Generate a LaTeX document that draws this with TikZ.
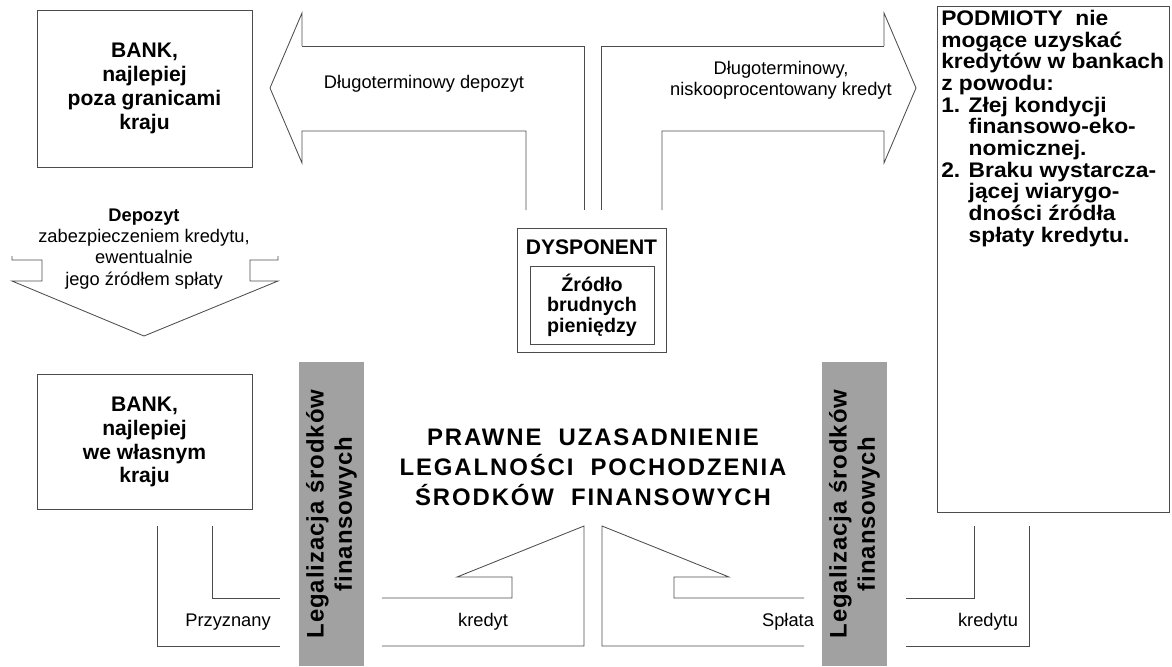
\documentclass[tikz,border=0pt]{standalone}
\usepackage{fontspec}
\setmainfont{Liberation Sans}
\newfontfamily\titlefont[LetterSpace=8]{Liberation Sans}
\newfontfamily\barfont[LetterSpace=4]{Liberation Sans}
\newfontfamily\podmfont[FakeStretch=1.08]{Liberation Sans}
\definecolor{lmLine}{gray}{0.3}
\definecolor{lmBarGray}{gray}{0.63}
\begin{document}
\begin{tikzpicture}[x=0.025cm,y=-0.025cm]
\tikzset{
    lmBox/.style={rectangle,draw=lmLine,line width=0.6pt,minimum width=5.375cm,align=center,font=\fontsize{15}{17}\selectfont\bfseries},
    lmFlow/.style={draw=lmLine,line width=0.6pt},
    lmBar/.style={rectangle,fill=lmBarGray,minimum width=1.625cm,minimum height=7.6cm,inner sep=0pt},
    lmBarText/.style={rotate=90,align=center,font=\barfont\fontsize{17}{20}\selectfont\bfseries},
    lmLabel/.style={align=center,font=\fontsize{13}{15}\selectfont},
}
\useasboundingbox (0,0) rectangle (1172,666);

% boxes
\node[lmBox,minimum height=3.925cm] (bankOut) at (144.5,88.5) {BANK,\\najlepiej\\poza granicami\\kraju};
\node[lmBox,minimum height=3.375cm] (bankIn) at (144.5,442) {BANK,\\najlepiej\\we własnym\\kraju};
\node[rectangle,draw=lmLine,line width=0.6pt,minimum width=5.8cm,minimum height=12.65cm] (podm) at (1053.5,259) {};
\node[anchor=north west,align=left,inner sep=0pt,font=\podmfont\fontsize{15}{15.4}\selectfont\bfseries] (podmText) at (941,10)
  {PODMIOTY\ \ nie\\mogące uzyskać\\kredytów w bankach\\z powodu:\\1. Złej kondycji\\\phantom{1. }finansowo-eko-\\\phantom{1. }nomicznej.\\2. Braku wystarcza-\\\phantom{2. }jącej wiarygo-\\\phantom{2. }dności źródła\\\phantom{2. }spłaty kredytu.};
\node[rectangle,draw=lmLine,line width=0.6pt,minimum width=3.725cm,minimum height=3.1cm] (dysp) at (591.5,290) {};
\node[font=\fontsize{15}{17}\selectfont\bfseries] (dyspText) at (591.5,247) {DYSPONENT};
\node[rectangle,draw=lmLine,line width=0.6pt,minimum width=3.1cm,minimum height=1.95cm,align=center,font=\fontsize{14}{14.5}\selectfont\bfseries] (zrodlo) at (592,305) {Źródło\\brudnych\\pieniędzy};

% top arrows
\draw[lmFlow] (302,46) -- (302,13) -- (270,88) -- (302,163) -- (302,131) -- (526,131) -- (526,210);
\draw[lmFlow] (302,46) -- (584,46) -- (584,210);
\draw[lmFlow] (884,46) -- (884,13) -- (916,88) -- (884,163) -- (884,131) -- (662,131) -- (662,210);
\draw[lmFlow] (884,46) -- (601,46) -- (601,210);
\node[lmLabel] (depoz) at (424,84) {Długoterminowy depozyt};
\node[lmLabel] (kred) at (781,80) {Długoterminowy,\\niskooprocentowany kredyt};

% down arrow
\draw[lmFlow] (12,256) -- (12,260) -- (42,260) -- (42,281) -- (12,281) -- (144,336) -- (278,281) -- (250,281) -- (250,260) -- (278,260) -- (278,256);
\node[lmLabel] (zabezp) at (144,249) {\textbf{Depozyt}\\zabezpieczeniem kredytu,\\ewentualnie\\jego źródłem spłaty};

% gray bars
\node[lmBar] (barL) at (331.5,514) {};
\node[lmBar] (barR) at (854.5,514) {};
\node[lmBarText] (barLText) at (barL) {Legalizacja środków\\finansowych};
\node[lmBarText] (barRText) at (barR) {Legalizacja środków\\finansowych};

% title
\node[align=center,font=\titlefont\fontsize{17}{21.3}\selectfont\bfseries] (title) at (593,467) {PRAWNE\ \ UZASADNIENIE\\LEGALNOŚCI\ \ POCHODZENIA\\ŚRODKÓW\ \ FINANSOWYCH};

% bottom flows
\draw[lmFlow] (157,526) -- (157,646) -- (280,646);
\draw[lmFlow] (212,526) -- (212,598) -- (280,598);
\draw[lmFlow] (382,646) -- (584,646) -- (584,526) -- (457,577) -- (512,577) -- (512,598) -- (382,598);
\draw[lmFlow] (804,646) -- (602,646) -- (602,526) -- (729,577) -- (674,577) -- (674,598) -- (804,598);
\draw[lmFlow] (1029,526) -- (1029,646) -- (906,646);
\draw[lmFlow] (974,526) -- (974,598) -- (906,598);
\node[lmLabel] (przyz) at (228,622) {Przyznany};
\node[lmLabel] (kredyt) at (483,622) {kredyt};
\node[lmLabel] (splata) at (788,622) {Spłata};
\node[lmLabel] (kredytu) at (988,622) {kredytu};
\end{tikzpicture}
\end{document}
